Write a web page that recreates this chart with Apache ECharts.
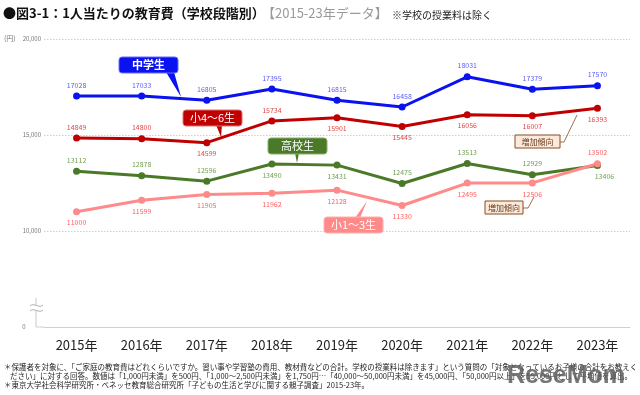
<!DOCTYPE html>
<html><head><meta charset="utf-8">
<script src="https://cdn.jsdelivr.net/npm/echarts@6/dist/echarts.min.js"></script>
<style>html,body{margin:0;padding:0;background:#fff}#c{width:640px;height:395px}</style>
</head><body><div id="c"></div>
<script>
const categories = ['2015年','2016年','2017年','2018年','2019年','2020年','2021年','2022年','2023年'];
const juniorHigh = [17028,17033,16805,17395,16815,16458,18031,17379,17570];
const elem46 = [14849,14800,14599,15734,15901,15445,16056,16007,16393];
const highSchool = [13112,12878,12596,13490,13431,12475,13513,12929,13406];
const elem13 = [11000,11599,11905,11962,12128,11330,12495,12506,13502];
const yTicks = [5000,10000,15000,20000];
const yTickLabels = ['', '10,000','15,000','20,000'];

// label placement (style)
const posJH = ['top','top','top','top','top','top','top','top','top'];
const pos46 = ['top','top','bottom','top','bottom','bottom','bottom','bottom','bottom'];
const posHS = ['top','top','top','bottom','bottom','top','top','top','bottom'];
const pos13 = ['bottom','bottom','bottom','bottom','bottom','bottom','bottom','bottom','top'];

const FONT = '"Noto Sans CJK JP", "Noto Sans", sans-serif';

function mk(name, vals, pos, color, lblColor) {
  return {
    name, type: 'line', data: vals.map((v, i) => {
      const item = { value: v, label: { position: pos[i] } };
      if (name === '高校生' && i === 8) item.label.offset = [7, 0];
      return item;
    }),
    symbol: 'circle', symbolSize: 7,
    lineStyle: { width: 3, color }, itemStyle: { color },
    label: { show: true, fontSize: 7, color: lblColor, distance: 4, fontFamily: FONT },
    z: 3
  };
}

const chart = echarts.init(document.getElementById('c'));
chart.setOption({
  animation: false,
  grid: { left: 44, right: 10, top: 39, bottom: 68 },
  xAxis: {
    type: 'category', data: categories, boundaryGap: true,
    axisLine: { show: true, lineStyle: { color: '#d0d0d0', width: 1 } },
    axisTick: { show: false },
    axisLabel: { fontSize: 13, color: '#222', margin: 12, fontFamily: FONT }
  },
  yAxis: {
    type: 'value', min: 5000, max: 20000, interval: 5000,
    axisLine: { show: false }, axisTick: { show: false },
    splitLine: { lineStyle: { color: '#cfcfcf', type: [1.5, 1.5], width: 1 } },
    axisLabel: {
      fontSize: 6, color: '#777', margin: 3, fontFamily: FONT,
      formatter: v => yTickLabels[yTicks.indexOf(v)]
    }
  },
  series: [
    mk('中学生', juniorHigh, posJH, '#0a12f0', '#5c5cff'),
    mk('小4～6生', elem46, pos46, '#c00000', '#e04848'),
    mk('高校生', highSchool, posHS, '#4a7a28', '#72a052'),
    mk('小1～3生', elem13, pos13, '#ff8a8a', '#ff6060')
  ],
  graphic: [
    { type: 'text', left: 3, top: 7, style: { text: '●図3-1：1人当たりの教育費（学校段階別）', font: 'bold 13px ' + FONT, fill: '#111' } },
    { type: 'text', left: 262, top: 7, style: { text: '【2015-23年データ】', font: '13px ' + FONT, fill: '#9a9a9a' } },
    { type: 'text', left: 392, top: 10, style: { text: '※学校の授業料は除く', font: '10px ' + FONT, fill: '#222' } },
    { type: 'text', left: 4, top: 35, style: { text: '(円)', font: '7px ' + FONT, fill: '#777' } },
    { type: 'text', x: 24, y: 327, style: { text: '0', font: '6px ' + FONT, fill: '#777', align: 'center', verticalAlign: 'middle' } },
    // bottom axis extension and break
    { type: 'line', shape: { x1: 36, y1: 327, x2: 44, y2: 327 }, style: { stroke: '#d0d0d0', lineWidth: 1 } },
    { type: 'line', shape: { x1: 36, y1: 298, x2: 36, y2: 327 }, style: { stroke: '#c8c8c8', lineWidth: 1 } },
    { type: 'rect', shape: { x: 30, y: 305, width: 13, height: 6 }, style: { fill: '#fff' } },
    { type: 'bezierCurve', shape: { x1: 30, y1: 306, x2: 43, y2: 305, cpx1: 34, cpy1: 302, cpx2: 39, cpy2: 309 }, style: { stroke: '#999', lineWidth: 0.8, fill: null } },
    { type: 'bezierCurve', shape: { x1: 30, y1: 311, x2: 43, y2: 310, cpx1: 34, cpy1: 307, cpx2: 39, cpy2: 314 }, style: { stroke: '#999', lineWidth: 0.8, fill: null } },
    // callouts
    { type: 'polygon', shape: { points: [[166, 72], [174, 72], [181, 97]] }, style: { fill: '#0a12f0' }, z: 10 },
    { type: 'rect', shape: { x: 119, y: 57, width: 59, height: 16, r: 3 }, style: { fill: '#0a12f0', stroke: '#6a6aff', lineWidth: 1 }, z: 10 },
    { type: 'text', x: 148.5, y: 65, style: { text: '中学生', font: 'bold 11px ' + FONT, fill: '#fff', align: 'center', verticalAlign: 'middle' }, z: 11 },

    { type: 'polygon', shape: { points: [[216, 125], [222, 125], [221, 137]] }, style: { fill: '#c00000' }, z: 10 },
    { type: 'rect', shape: { x: 183, y: 110, width: 59, height: 16, r: 3 }, style: { fill: '#c00000', stroke: '#e07070', lineWidth: 1 }, z: 10 },
    { type: 'text', x: 212.5, y: 118, style: { text: '小4～6生', font: '11px ' + FONT, fill: '#fff', align: 'center', verticalAlign: 'middle' }, z: 11 },

    { type: 'polygon', shape: { points: [[295, 153], [299, 153], [297, 163]] }, style: { fill: '#4a7a28' }, z: 10 },
    { type: 'rect', shape: { x: 268, y: 138, width: 59, height: 16, r: 3 }, style: { fill: '#4a7a28', stroke: '#8ab06a', lineWidth: 1 }, z: 10 },
    { type: 'text', x: 297.5, y: 146, style: { text: '高校生', font: '11px ' + FONT, fill: '#fff', align: 'center', verticalAlign: 'middle' }, z: 11 },

    { type: 'polygon', shape: { points: [[355, 218], [360, 218], [367, 201]] }, style: { fill: '#ff8a8a' }, z: 10 },
    { type: 'rect', shape: { x: 324, y: 217, width: 59, height: 16, r: 3 }, style: { fill: '#ff8a8a', stroke: '#ffb0b0', lineWidth: 1 }, z: 10 },
    { type: 'text', x: 353.5, y: 225, style: { text: '小1～3生', font: '11px ' + FONT, fill: '#fff', align: 'center', verticalAlign: 'middle' }, z: 11 },

    { type: 'polyline', shape: { points: [[560, 142], [564, 142], [577, 115]] }, style: { stroke: '#8a4a20', lineWidth: 0.8, fill: null }, z: 10 },
    { type: 'rect', shape: { x: 515, y: 135, width: 45, height: 13 }, style: { fill: '#fbeadc', stroke: '#8a4a20', lineWidth: 1 }, z: 10 },
    { type: 'text', x: 537.5, y: 141.5, style: { text: '増加傾向', font: '8px ' + FONT, fill: '#6a3a18', align: 'center', verticalAlign: 'middle' }, z: 11 },

    { type: 'polyline', shape: { points: [[523, 208], [528, 208], [534, 197]] }, style: { stroke: '#8a4a20', lineWidth: 0.8, fill: null }, z: 10 },
    { type: 'rect', shape: { x: 485, y: 201, width: 38, height: 13 }, style: { fill: '#fbeadc', stroke: '#8a4a20', lineWidth: 1 }, z: 10 },
    { type: 'text', x: 504, y: 207.5, style: { text: '増加傾向', font: '8px ' + FONT, fill: '#6a3a18', align: 'center', verticalAlign: 'middle' }, z: 11 },

    // footnotes
    { type: 'text', left: 4, top: 363, style: { text: '＊保護者を対象に、「ご家庭の教育費はどれくらいですか。習い事や学習塾の費用、教材費などの合計。学校の授業料は除きます」という質問の「対象となっているお子様の合計をお教えく', font: '7.5px ' + FONT, fill: '#222' } },
    { type: 'text', left: 10, top: 372, style: { text: 'ださい」に対する回答。数値は「1,000円未満」を500円、「1,000～2,500円未満」を1,750円…「40,000～50,000円未満」を45,000円、「50,000円以上」を55,000円として平均値を算出。', font: '7.5px ' + FONT, fill: '#222' } },
    { type: 'text', left: 4, top: 381, style: { text: '＊東京大学社会科学研究所・ベネッセ教育総合研究所「子どもの生活と学びに関する親子調査」2015-23年。', font: '7.5px ' + FONT, fill: '#222' } },
    { type: 'text', left: 507, top: 364, style: { text: 'ReseMom', font: 'bold 25px "Liberation Sans", sans-serif', fill: 'rgba(95,95,95,0.85)' }, z: 20 }
  ]
});
</script></body></html>
